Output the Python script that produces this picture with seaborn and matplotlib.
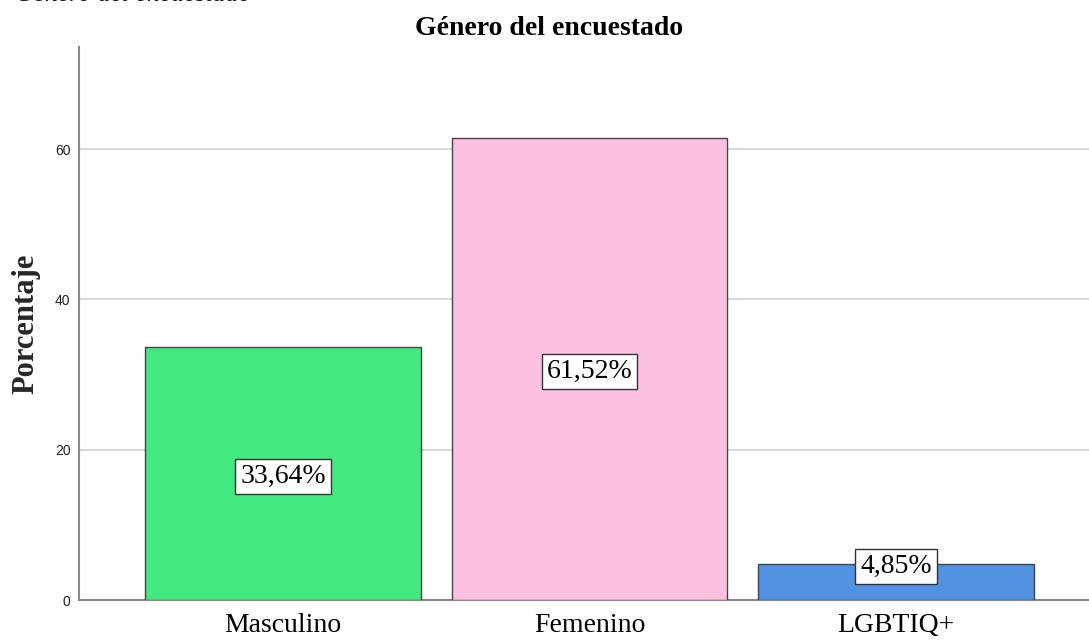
"""
Género del encuestado — gráfico de barras (porcentaje)
"""

import matplotlib.pyplot as plt
import pandas as pd
import seaborn as sns

# ─── datos ───────────────────────────────────────────────────────
categorias = ["Masculino", "Femenino", "LGBTIQ+"]
porcentajes = [33.64, 61.52, 4.85]
colores = ["#41E97F", "#FEC0E0", "#5292E2"]
ticks_y = [0, 20, 40, 60]

df = pd.DataFrame({"genero": categorias, "pct": porcentajes})

sns.set_theme(style="white")
plt.rcParams["font.family"] = ["Liberation Serif", "DejaVu Serif"]

fig = plt.figure(figsize=(10.89, 6.4), dpi=100, facecolor="white")
ax = fig.add_axes([0.0725, 0.0625, 0.9275, 0.864])

sns.barplot(
    data=df,
    x="genero",
    y="pct",
    hue="genero",
    palette=dict(zip(categorias, colores)),
    order=categorias,
    width=0.9,
    edgecolor="#444444",
    linewidth=1.0,
    saturation=1,
    legend=False,
    zorder=3,
    ax=ax,
)

# etiquetas en recuadro
for i, v in enumerate(porcentajes):
    y = v / 2 - 0.4 if v > 10 else v - 0.4
    ax.text(
        i,
        y,
        f"{v:.2f}%".replace(".", ","),
        ha="center",
        va="center",
        fontsize=20,
        color="black",
        bbox=dict(boxstyle="square,pad=0.18", fc="white", ec="#333333", lw=1),
        zorder=5,
    )

ax.set_xlim(-0.666, 2.63)
ax.set_ylim(0, 73.6)
ax.set_yticks(ticks_y)
ax.set_yticklabels([str(t) for t in ticks_y], family="Liberation Sans", fontsize=10, color="#222222")
ax.tick_params(axis="x", labelsize=20, length=0, pad=9, colors="black")
ax.tick_params(axis="y", length=0, pad=6)
ax.yaxis.grid(True, color="#D9D9D9", linewidth=1.5, zorder=0)
ax.set_axisbelow(True)

for s in ["top", "right"]:
    ax.spines[s].set_visible(False)
for s in ["left", "bottom"]:
    ax.spines[s].set_color("#888888")
    ax.spines[s].set_linewidth(1.5)

ax.set_xlabel("")
ax.set_ylabel("Porcentaje", fontsize=22, fontweight="bold")
ax.yaxis.set_label_coords(-0.0386, 0.5)

fig.text(0.504, 1 - 35 / 640, "Género del encuestado", fontsize=20,
         fontweight="bold", ha="center", va="baseline", color="black")

# texto superior recortado
fig.text(0.014, 1 - 1 / 640, "Género del encuestado", fontsize=18.5,
         style="italic", va="baseline", ha="left", color="#111111")

fig.savefig("out.png", dpi=100, facecolor="white")
